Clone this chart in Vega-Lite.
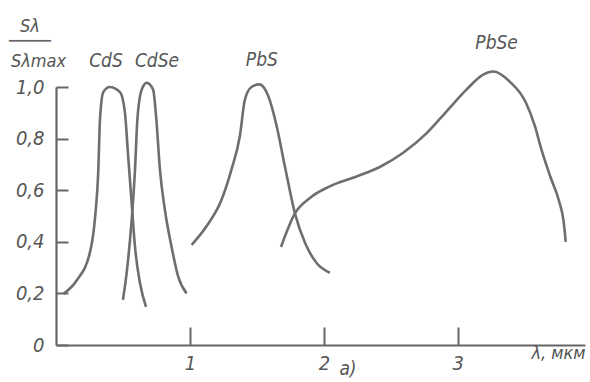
{
  "$schema": "https://vega.github.io/schema/vega-lite/v6.json",
  "width": 529,
  "height": 258,
  "autosize": {"type": "none"},
  "padding": {"left": 56, "top": 87, "right": 5, "bottom": 37},
  "background": "white",
  "config": {"view": {"stroke": null}, "font": "DejaVu Sans Condensed, Liberation Sans Narrow, Liberation Sans"},
  "title": {
    "text": "Sλ",
    "subtitle": "━━━━━━━",
    "anchor": "start",
    "frame": "group",
    "align": "center",
    "dx": -26,
    "dy": 14,
    "offset": 2,
    "fontSize": 18,
    "fontStyle": "italic",
    "fontWeight": "normal",
    "color": "#555",
    "font": "DejaVu Sans Condensed, Liberation Sans Narrow, Liberation Sans",
    "subtitleFontSize": 10,
    "subtitleColor": "#666",
    "subtitlePadding": 0,
    "subtitleFont": "DejaVu Sans Mono",
    "subtitleFontWeight": "normal"
  },
  "datasets": {
    "curves": [
      {"m": "CdS", "x": 0.055, "y": 0.198},
      {"m": "CdS", "x": 0.154, "y": 0.25},
      {"m": "CdS", "x": 0.254, "y": 0.36},
      {"m": "CdS", "x": 0.29, "y": 0.485},
      {"m": "CdS", "x": 0.316, "y": 0.68},
      {"m": "CdS", "x": 0.328, "y": 0.87},
      {"m": "CdS", "x": 0.353, "y": 0.98},
      {"m": "CdS", "x": 0.4, "y": 1.0},
      {"m": "CdS", "x": 0.478, "y": 0.98},
      {"m": "CdS", "x": 0.515, "y": 0.9},
      {"m": "CdS", "x": 0.537, "y": 0.745},
      {"m": "CdS", "x": 0.565, "y": 0.55},
      {"m": "CdS", "x": 0.59, "y": 0.38},
      {"m": "CdS", "x": 0.627, "y": 0.24},
      {"m": "CdS", "x": 0.672, "y": 0.148},
      {"m": "CdSe", "x": 0.5, "y": 0.175},
      {"m": "CdSe", "x": 0.53, "y": 0.29},
      {"m": "CdSe", "x": 0.565, "y": 0.485},
      {"m": "CdSe", "x": 0.59, "y": 0.68},
      {"m": "CdSe", "x": 0.607, "y": 0.87},
      {"m": "CdSe", "x": 0.64, "y": 0.99},
      {"m": "CdSe", "x": 0.677, "y": 1.016},
      {"m": "CdSe", "x": 0.725, "y": 0.99},
      {"m": "CdSe", "x": 0.75, "y": 0.87},
      {"m": "CdSe", "x": 0.776, "y": 0.68},
      {"m": "CdSe", "x": 0.813, "y": 0.524},
      {"m": "CdSe", "x": 0.863, "y": 0.38},
      {"m": "CdSe", "x": 0.913, "y": 0.264},
      {"m": "CdSe", "x": 0.975, "y": 0.2},
      {"m": "PbS", "x": 1.013, "y": 0.388},
      {"m": "PbS", "x": 1.124, "y": 0.46},
      {"m": "PbS", "x": 1.236, "y": 0.563},
      {"m": "PbS", "x": 1.31, "y": 0.68},
      {"m": "PbS", "x": 1.373, "y": 0.81},
      {"m": "PbS", "x": 1.41, "y": 0.95},
      {"m": "PbS", "x": 1.46, "y": 1.0},
      {"m": "PbS", "x": 1.52, "y": 1.01},
      {"m": "PbS", "x": 1.585, "y": 0.965},
      {"m": "PbS", "x": 1.647, "y": 0.85},
      {"m": "PbS", "x": 1.71, "y": 0.69},
      {"m": "PbS", "x": 1.784, "y": 0.51},
      {"m": "PbS", "x": 1.86, "y": 0.395},
      {"m": "PbS", "x": 1.946, "y": 0.318},
      {"m": "PbS", "x": 2.045, "y": 0.28},
      {"m": "PbSe", "x": 1.68, "y": 0.38},
      {"m": "PbSe", "x": 1.784, "y": 0.51},
      {"m": "PbSe", "x": 1.896, "y": 0.57},
      {"m": "PbSe", "x": 2.045, "y": 0.615},
      {"m": "PbSe", "x": 2.244, "y": 0.653},
      {"m": "PbSe", "x": 2.418, "y": 0.69},
      {"m": "PbSe", "x": 2.59, "y": 0.744},
      {"m": "PbSe", "x": 2.766, "y": 0.82},
      {"m": "PbSe", "x": 2.915, "y": 0.905},
      {"m": "PbSe", "x": 3.065, "y": 0.99},
      {"m": "PbSe", "x": 3.19, "y": 1.048},
      {"m": "PbSe", "x": 3.264, "y": 1.06},
      {"m": "PbSe", "x": 3.39, "y": 1.02},
      {"m": "PbSe", "x": 3.51, "y": 0.938},
      {"m": "PbSe", "x": 3.575, "y": 0.85},
      {"m": "PbSe", "x": 3.625, "y": 0.757},
      {"m": "PbSe", "x": 3.69, "y": 0.654},
      {"m": "PbSe", "x": 3.755, "y": 0.56},
      {"m": "PbSe", "x": 3.79, "y": 0.48},
      {"m": "PbSe", "x": 3.806, "y": 0.4}
    ],
    "labels": [
      {"t": "CdS", "x": 0.373, "y": 1.076},
      {"t": "CdSe", "x": 0.754, "y": 1.076},
      {"t": "PbS", "x": 1.537, "y": 1.08},
      {"t": "PbSe", "x": 3.29, "y": 1.146},
      {"t": "а)", "x": 2.18, "y": -0.115}
    ]
  },
  "layer": [
    {
      "data": {"name": "curves"},
      "mark": {"type": "line", "interpolate": "monotone", "stroke": "#6e6e6e", "strokeWidth": 2.6, "clip": false},
      "encoding": {
        "x": {
          "field": "x", "type": "quantitative",
          "scale": {"domain": [0, 3.95], "nice": false, "zero": false},
          "axis": {
            "values": [1, 2, 3], "format": "d", "grid": false,
            "tickSize": -18, "tickWidth": 2, "tickColor": "#666",
            "domainColor": "#666", "domainWidth": 2.2,
            "labelPadding": 26, "labelFontSize": 20, "labelFontStyle": "italic", "labelColor": "#555",
            "title": "λ, мкм", "titleAnchor": "end", "titleAlign": "right", "titleBaseline": "alphabetic", "titleY": 13,
            "titleFontSize": 18, "titleFontStyle": "italic", "titleFontWeight": "normal", "titleColor": "#555"
          }
        },
        "y": {
          "field": "y", "type": "quantitative",
          "scale": {"domain": [0, 1], "nice": false},
          "axis": {
            "values": [0, 0.2, 0.4, 0.6, 0.8, 1], "grid": false,
            "tickSize": -12, "tickWidth": 2, "tickColor": "#666",
            "domainColor": "#666", "domainWidth": 2.2,
            "labelPadding": 24, "labelFontSize": 20, "labelFontStyle": "italic", "labelColor": "#555",
            "labelExpr": "datum.value == 0 ? '0' : replace(format(datum.value, '.1f'), '.', ',')",
            "title": "Sλmax", "titleAngle": 0, "titleX": -18, "titleY": -21, "titleAlign": "center", "titleBaseline": "alphabetic",
            "titleFontSize": 18, "titleFontStyle": "italic", "titleFontWeight": "normal", "titleColor": "#555"
          }
        },
        "detail": {"field": "m", "type": "nominal"}
      }
    },
    {
      "data": {"name": "labels"},
      "mark": {"type": "text", "fontStyle": "italic", "fontSize": 19, "fill": "#555", "baseline": "alphabetic", "align": "center"},
      "encoding": {
        "x": {"field": "x", "type": "quantitative"},
        "y": {"field": "y", "type": "quantitative"},
        "text": {"field": "t", "type": "nominal"}
      }
    }
  ]
}
